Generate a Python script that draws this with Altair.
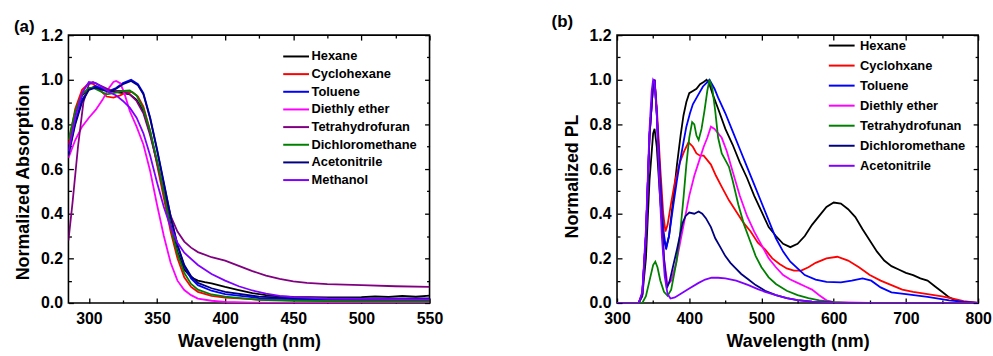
import altair as alt
import pandas as pd

FONT = "Liberation Sans"

# ---------------- Panel (a): normalized absorption ----------------
abs_names = ["Hexane", "Cyclohexane", "Toluene", "Diethly ether", "Tetrahydrofuran",
             "Dichloromethane", "Acetonitrile", "Methanol"]
abs_colors = ["#000000", "#ff0000", "#0000ff", "#ff00ff", "#800080", "#008000", "#000080", "#8000ff"]

abs_hexane_nm = [285, 290, 295, 300, 305, 310, 315, 320, 325, 330, 335, 340, 345, 350, 355, 360, 365, 370, 375,
                 380, 385, 390, 395, 400, 410, 420, 430, 440, 450, 475, 500, 510, 520, 530, 540, 550]
abs_hexane = [0.70, 0.84, 0.93, 0.962, 0.965, 0.957, 0.95, 0.945, 0.94, 0.935, 0.91, 0.86, 0.76, 0.63, 0.49, 0.35,
              0.23, 0.15, 0.115, 0.10, 0.093, 0.088, 0.08, 0.072, 0.058, 0.044, 0.035, 0.03, 0.027, 0.025, 0.026,
              0.030, 0.027, 0.032, 0.028, 0.033]

abs_cyclohexane_nm = [285, 290, 295, 300, 303, 308, 313, 318, 323, 328, 332, 336, 340, 345, 350, 355, 360, 365, 370,
                      375, 380, 390, 400, 425, 450, 500, 550]
abs_cyclohexane = [0.71, 0.87, 0.955, 0.985, 0.982, 0.955, 0.925, 0.92, 0.93, 0.945, 0.945, 0.925, 0.88, 0.77, 0.62,
                   0.47, 0.32, 0.20, 0.115, 0.072, 0.05, 0.032, 0.024, 0.015, 0.012, 0.01, 0.01]

abs_toluene_nm = [285, 290, 295, 300, 305, 310, 315, 320, 325, 331, 336, 340, 345, 350, 355, 360, 365, 370, 375, 380,
                  390, 400, 425, 450, 500, 550]
abs_toluene = [0.67, 0.81, 0.91, 0.958, 0.972, 0.96, 0.95, 0.963, 0.985, 1.0, 0.98, 0.94, 0.83, 0.69, 0.54, 0.39,
               0.26, 0.165, 0.11, 0.08, 0.055, 0.04, 0.022, 0.017, 0.015, 0.015]

abs_ether_nm = [285, 290, 295, 300, 305, 310, 315, 318, 320, 323, 326, 330, 335, 340, 345, 350, 355, 360, 365, 370,
                375, 380, 390, 400, 420, 450, 550]
abs_ether = [0.65, 0.73, 0.79, 0.83, 0.865, 0.91, 0.965, 0.99, 0.995, 0.985, 0.94, 0.86, 0.79, 0.71, 0.59, 0.44,
             0.30, 0.18, 0.10, 0.058, 0.035, 0.02, 0.01, 0.005, 0.002, 0.0, 0.0]

abs_thf_nm = [285, 288, 292, 296, 300, 303, 308, 315, 320, 325, 330, 335, 340, 345, 350, 355, 360, 365, 370, 375,
              380, 390, 400, 410, 420, 430, 440, 450, 460, 475, 500, 525, 550]
abs_thf = [0.28, 0.45, 0.70, 0.90, 0.98, 0.99, 0.975, 0.955, 0.95, 0.95, 0.935, 0.905, 0.85, 0.75, 0.63, 0.50, 0.39,
           0.32, 0.275, 0.248, 0.228, 0.205, 0.19, 0.166, 0.143, 0.123, 0.108, 0.097, 0.09, 0.084, 0.08, 0.075, 0.072]

abs_dcm_nm = [285, 290, 295, 300, 303, 308, 313, 318, 325, 330, 335, 340, 345, 350, 355, 360, 365, 370, 375, 380,
              390, 400, 425, 450, 500, 550]
abs_dcm = [0.73, 0.86, 0.935, 0.963, 0.965, 0.95, 0.935, 0.94, 0.95, 0.952, 0.93, 0.87, 0.77, 0.64, 0.49, 0.34,
           0.22, 0.135, 0.085, 0.06, 0.038, 0.028, 0.014, 0.01, 0.007, 0.006]

abs_acn_nm = [285, 290, 295, 300, 305, 310, 315, 320, 325, 331, 336, 340, 345, 350, 355, 360, 365, 370, 375, 380,
              390, 400, 425, 450, 500, 550]
abs_acn = [0.66, 0.80, 0.90, 0.955, 0.965, 0.955, 0.945, 0.96, 0.98, 0.995, 0.975, 0.935, 0.825, 0.685, 0.535,
           0.385, 0.26, 0.17, 0.12, 0.09, 0.066, 0.05, 0.028, 0.022, 0.02, 0.02]

abs_meoh_nm = [285, 290, 295, 300, 305, 310, 315, 320, 325, 330, 335, 340, 345, 350, 355, 360, 365, 370, 380, 390,
               400, 410, 420, 430, 440, 450, 475, 500, 550]
abs_meoh = [0.68, 0.83, 0.94, 0.99, 0.985, 0.965, 0.945, 0.93, 0.905, 0.875, 0.83, 0.76, 0.66, 0.54, 0.43, 0.34,
            0.27, 0.225, 0.17, 0.13, 0.10, 0.075, 0.056, 0.042, 0.032, 0.026, 0.02, 0.018, 0.016]

abs_x = [abs_hexane_nm, abs_cyclohexane_nm, abs_toluene_nm, abs_ether_nm, abs_thf_nm, abs_dcm_nm, abs_acn_nm,
         abs_meoh_nm]
abs_y = [abs_hexane, abs_cyclohexane, abs_toluene, abs_ether, abs_thf, abs_dcm, abs_acn, abs_meoh]

# ---------------- Panel (b): normalized PL ----------------
pl_names = ["Hexane", "Cyclohxane", "Toluene", "Diethly ether", "Tetrahydrofunan", "Dichloromethane", "Acetonitrile"]
pl_colors = ["#000000", "#ff0000", "#0000ff", "#ff00ff", "#008000", "#000080", "#8000ff"]

pl_hexane_nm = [300, 330, 335, 340, 345, 350, 352, 355, 360, 365, 368, 372, 378, 383, 388, 392, 396, 400, 405, 410,
                415, 420, 424, 428, 433, 440, 450, 460, 470, 480, 490, 500, 510, 520, 530, 540, 550, 560, 570, 580,
                590, 600, 610, 620, 630, 640, 650, 660, 670, 680, 690, 700, 710, 720, 730, 740, 750, 760, 770, 780, 800]
pl_hexane = [0, 0, 0.03, 0.2, 0.55, 0.76, 0.78, 0.70, 0.45, 0.28, 0.25, 0.30, 0.47, 0.62, 0.75, 0.84, 0.90, 0.94,
             0.95, 0.96, 0.98, 0.99, 1.0, 0.98, 0.93, 0.87, 0.78, 0.71, 0.63, 0.56, 0.48, 0.41, 0.34, 0.30, 0.265,
             0.25, 0.265, 0.30, 0.35, 0.39, 0.43, 0.45, 0.445, 0.42, 0.385, 0.33, 0.28, 0.23, 0.19, 0.165, 0.15,
             0.135, 0.125, 0.11, 0.10, 0.075, 0.05, 0.025, 0.01, 0.004, 0]

pl_cyclo_nm = [300, 330, 335, 340, 345, 350, 352, 355, 360, 364, 367, 370, 375, 380, 387, 393, 399, 405, 410, 415,
               420, 425, 430, 437, 445, 455, 465, 475, 485, 495, 505, 515, 525, 535, 545, 555, 565, 575, 590, 605,
               620, 635, 650, 665, 680, 695, 710, 730, 750, 765, 780, 800]
pl_cyclo = [0, 0, 0.04, 0.3, 0.75, 0.98, 1.0, 0.88, 0.6, 0.4, 0.32, 0.35, 0.45, 0.54, 0.63, 0.68, 0.72, 0.70, 0.67,
            0.66, 0.66, 0.64, 0.62, 0.57, 0.52, 0.46, 0.41, 0.36, 0.32, 0.27, 0.24, 0.20, 0.175, 0.155, 0.145,
            0.145, 0.16, 0.18, 0.20, 0.207, 0.19, 0.16, 0.125, 0.10, 0.08, 0.06, 0.05, 0.04, 0.03, 0.02, 0.008, 0]

pl_toluene_nm = [300, 330, 335, 340, 345, 350, 352, 355, 360, 364, 368, 372, 378, 383, 387, 392, 396, 401, 405, 412,
                 419, 425, 428, 435, 440, 450, 460, 470, 480, 490, 500, 510, 520, 530, 540, 550, 560, 575, 590, 610,
                 625, 640, 652, 665, 680, 700, 730, 760, 780, 800]
pl_toluene = [0, 0, 0.04, 0.3, 0.75, 0.98, 1.0, 0.85, 0.55, 0.33, 0.24, 0.30, 0.44, 0.55, 0.63, 0.72, 0.79, 0.85,
              0.89, 0.93, 0.97, 0.99, 1.0, 0.96, 0.92, 0.85, 0.77, 0.69, 0.61, 0.53, 0.45, 0.37, 0.29, 0.23, 0.185,
              0.155, 0.125, 0.105, 0.095, 0.092, 0.10, 0.11, 0.10, 0.07, 0.048, 0.04, 0.027, 0.012, 0.005, 0]

pl_ether_nm = [300, 330, 335, 340, 345, 350, 352, 355, 360, 365, 370, 375, 382, 391, 400, 407, 414, 420, 425, 430,
               435, 440, 445, 452, 460, 470, 480, 490, 500, 510, 520, 530, 540, 550, 560, 570, 580, 590, 600, 650, 800]
pl_ether = [0, 0, 0.04, 0.3, 0.75, 0.98, 1.0, 0.85, 0.5, 0.2, 0.08, 0.10, 0.18, 0.33, 0.48, 0.57, 0.64, 0.70, 0.74,
            0.79, 0.78, 0.76, 0.74, 0.68, 0.59, 0.48, 0.39, 0.32, 0.26, 0.20, 0.16, 0.125, 0.105, 0.09, 0.075, 0.06,
            0.035, 0.012, 0.004, 0, 0]

pl_thf_nm = [300, 335, 340, 345, 350, 353, 356, 360, 365, 370, 375, 382, 387, 392, 396, 400, 404, 407, 410, 413, 417,
             421, 425, 428, 432, 436, 440, 445, 450, 455, 460, 468, 476, 484, 492, 500, 510, 520, 535, 550, 565, 580,
             600, 620, 800]
pl_thf = [0, 0, 0.03, 0.10, 0.17, 0.185, 0.16, 0.10, 0.05, 0.032, 0.06, 0.18, 0.30, 0.47, 0.62, 0.74, 0.81, 0.80,
          0.75, 0.73, 0.78, 0.86, 0.95, 1.0, 0.96, 0.86, 0.74, 0.67, 0.64, 0.61, 0.55, 0.44, 0.35, 0.28, 0.21, 0.16,
          0.115, 0.085, 0.055, 0.035, 0.022, 0.012, 0.004, 0, 0]

pl_dcm_nm = [300, 330, 335, 340, 345, 350, 352, 355, 360, 365, 369, 373, 378, 383, 387, 391, 395, 400, 407, 413, 418,
             423, 430, 436, 443, 450, 457, 463, 472, 482, 492, 505, 520, 535, 550, 570, 600, 650, 800]
pl_dcm = [0, 0, 0.04, 0.3, 0.75, 0.98, 1.0, 0.85, 0.5, 0.2, 0.066, 0.10, 0.17, 0.24, 0.30, 0.36, 0.39, 0.405, 0.40,
          0.41, 0.40, 0.38, 0.34, 0.29, 0.25, 0.21, 0.18, 0.16, 0.13, 0.105, 0.08, 0.055, 0.035, 0.022, 0.013,
          0.006, 0.002, 0, 0]

pl_acn_nm = [300, 330, 335, 340, 345, 348, 350, 352, 355, 358, 362, 366, 370, 374, 380, 390, 400, 413, 422, 431, 440,
             450, 465, 482, 495, 505, 520, 535, 550, 570, 600, 650, 800]
pl_acn = [0, 0, 0.05, 0.33, 0.78, 0.95, 1.0, 0.99, 0.85, 0.58, 0.30, 0.12, 0.04, 0.02, 0.025, 0.045, 0.065, 0.09,
          0.105, 0.114, 0.113, 0.11, 0.10, 0.08, 0.062, 0.05, 0.035, 0.022, 0.013, 0.006, 0.002, 0, 0]

pl_x = [pl_hexane_nm, pl_cyclo_nm, pl_toluene_nm, pl_ether_nm, pl_thf_nm, pl_dcm_nm, pl_acn_nm]
pl_y = [pl_hexane, pl_cyclo, pl_toluene, pl_ether, pl_thf, pl_dcm, pl_acn]

# ticks
a_x_major = [300, 350, 400, 450, 500, 550]
a_x_minor = [325, 375, 425, 475, 525]
b_x_major = [300, 400, 500, 600, 700, 800]
b_x_minor = [350, 450, 550, 650, 750]
y_major = [0.0, 0.2, 0.4, 0.6, 0.8, 1.0, 1.2]
y_minor = [0.1, 0.3, 0.5, 0.7, 0.9, 1.1]


def long_df(names, xs, ys):
    rows = []
    for i, (n, xx, yy) in enumerate(zip(names, xs, ys)):
        for a, b in zip(xx, yy):
            rows.append({"series": n, "k": i, "nm": a, "v": b})
    return pd.DataFrame(rows)


MAJ = 5
MIN = 3


def panel(df, names, colors, xdom, xmaj, xmin, ytitle, title_y, tag, tagx, tagy, lx, ly, rowpad, loff, w, h):
    xs = alt.Scale(domain=xdom, nice=False, zero=False)
    ys = alt.Scale(domain=[0, 1.2], nice=False, zero=False)

    def ax(orient, values, size, labels, title, fmt):
        kw = dict(orient=orient, values=values, tickSize=size, offset=-size, domain=False, grid=False,
                  labels=labels, title=title, format=fmt, tickColor="black", tickWidth=1.3,
                  labelFlush=False)
        if labels:
            kw["labelPadding"] = 8 if orient == "bottom" else 6
            kw["titlePadding"] = 6 if orient == "bottom" else 8
            if orient == "left":
                kw["titleY"] = title_y
        return alt.Axis(**kw)

    lines = alt.Chart(df).mark_line(strokeWidth=1.8, clip=True).encode(
        x=alt.X("nm:Q", scale=xs, axis=ax("bottom", xmaj, MAJ, True, "Wavelength (nm)", "d")),
        y=alt.Y("v:Q", scale=ys, axis=ax("left", y_major, MAJ, True, ytitle, ".1f")),
        color=alt.Color("series:N", sort=names, scale=alt.Scale(domain=names, range=colors),
                        legend=alt.Legend(title=None, orient="none", legendX=lx, legendY=ly,
                                          symbolType="M-2.6,0H2.6", symbolSize=100, symbolStrokeWidth=2,
                                          labelFont=FONT, labelFontSize=13, labelFontWeight="bold",
                                          labelColor="black", rowPadding=rowpad, labelOffset=loff, padding=0)),
        order=alt.Order("k:Q"),
    )

    def ghost(xo, xv, xsz, yo, yv, ysz):
        return alt.Chart(df).mark_line(strokeOpacity=0).encode(
            x=alt.X("nm:Q", scale=xs, axis=ax(xo, xv, xsz, False, None, "d")),
            y=alt.Y("v:Q", scale=ys, axis=ax(yo, yv, ysz, False, None, ".1f")),
        )

    g1 = ghost("bottom", xmin, MIN, "left", y_minor, MIN)
    g2 = ghost("top", xmaj, MAJ, "right", y_major, MAJ)
    g3 = ghost("top", xmin, MIN, "right", y_minor, MIN)

    label = alt.Chart(pd.DataFrame({"t": [tag]})).mark_text(
        align="left", baseline="middle", font=FONT, fontSize=17, fontWeight="bold", color="black"
    ).encode(x=alt.value(tagx), y=alt.value(tagy), text="t:N")

    return alt.layer(lines, g1, g2, g3, label).resolve_axis(x="independent", y="independent").properties(
        width=w, height=h)


df_a = long_df(abs_names, abs_x, abs_y)
df_b = long_df(pl_names, pl_x, pl_y)

pa = panel(df_a, abs_names, abs_colors, [285, 550], a_x_major, a_x_minor, "Normalized Absorption", 148,
           "(a)", -55, -8, 223, 15, 3.8, 9, 364, 270)
pb = panel(df_b, pl_names, pl_colors, [300, 800], b_x_major, b_x_minor, "Normalized PL", 142,
           "(b)", -66, -13, 220, 4, 6.2, 12, 364, 270)

chart = alt.hconcat(pa, pb, spacing=107).resolve_scale(color="independent").properties(
    padding={"left": 13, "top": 11, "right": 0, "bottom": 0}
).configure_view(stroke="black", strokeWidth=1.6).configure_axis(
    labelFont=FONT, labelFontSize=16, labelFontWeight="bold", labelColor="black",
    titleFont=FONT, titleFontSize=18, titleFontWeight="bold", titleColor="black"
)

chart.save("out.html", embed_options={"renderer": "svg", "actions": False})
